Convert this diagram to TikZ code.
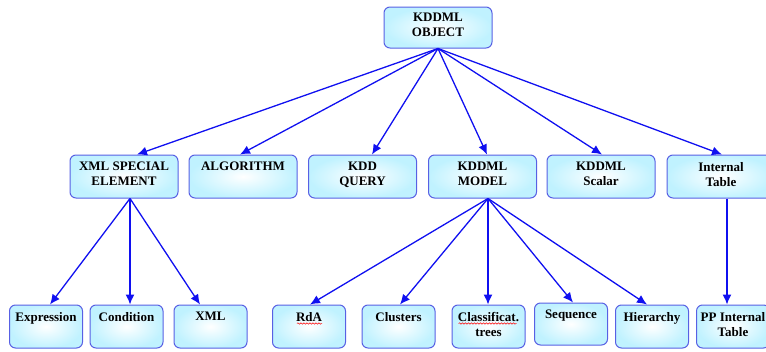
\documentclass[tikz,border=0pt]{standalone}
\usepackage{fontspec}
\setmainfont{Liberation Serif}
\usetikzlibrary{arrows.meta, positioning, decorations.pathmorphing}
\definecolor{boxline}{RGB}{88,96,228}
\definecolor{boxfill}{RGB}{192,242,255}
\definecolor{arrowblue}{RGB}{16,16,240}

\begin{document}
\begin{tikzpicture}[auto]
    \tikzstyle{object} = [rectangle, rounded corners=6pt, draw=boxline, line width=1pt, inner color=white, outer color=boxfill, minimum width=108pt, minimum height=43pt, align=center, font=\bfseries\fontsize{13}{15}\selectfont, execute at end node={\rule[-5pt]{0pt}{5pt}}]
    \tikzstyle{leaf} = [object, minimum width=73pt]
    \tikzstyle{line} = [draw=arrowblue, line width=1.3pt, -{Latex[length=10pt, width=9pt]}]
    \tikzstyle{typo} = [draw=red, line width=0.5pt, decorate, decoration={snake, amplitude=0.7pt, segment length=3pt}]

    \path [use as bounding box, clip] (0,0) rectangle (766pt,-351pt);

    \node [object, minimum height=41pt] (obj) at (438pt,-27.5pt) {KDDML\\OBJECT};
    \node [object, below of=obj, node distance=149pt, xshift=-314pt] (special) {XML SPECIAL\\ELEMENT};
    \node [object, below of=obj, node distance=149pt, xshift=-195pt] (algo) {ALGORITHM\\\phantom{X}};
    \node [object, below of=obj, node distance=149pt, xshift=-75.5pt] (query) {KDD\\QUERY};
    \node [object, below of=obj, node distance=149pt, xshift=44.5pt] (model) {KDDML\\MODEL};
    \node [object, below of=obj, node distance=149pt, xshift=163pt] (scalar) {KDDML\\Scalar};
    \node [object, below of=obj, node distance=149pt, xshift=283pt] (itable) {Internal\\Table};

    \node [leaf, below of=special, node distance=150pt, xshift=-78pt] (expr) {Expression\\\phantom{X}};
    \node [leaf, below of=special, node distance=150pt, xshift=2.5pt] (cond) {Condition\\\phantom{X}};
    \node [leaf, below of=special, node distance=150pt, xshift=86.5pt] (xml) {XML\\\phantom{X}};
    \node [leaf, below of=model, node distance=150pt, xshift=-173.5pt] (rda) {RdA\\\phantom{X}};
    \node [leaf, below of=model, node distance=150pt, xshift=-84pt] (clusters) {Clusters\\\phantom{X}};
    \node [leaf, below of=model, node distance=150pt, xshift=6pt] (trees) {Classificat.\\trees};
    \node [leaf, below of=model, node distance=147.5pt, xshift=88.5pt, minimum height=42pt] (sequence) {Sequence\\\phantom{X}};
    \node [leaf, below of=model, node distance=150pt, xshift=169.5pt] (hierarchy) {Hierarchy\\\phantom{X}};
    \node [leaf, below of=itable, node distance=150pt, xshift=12pt] (pptable) {PP Internal\\Table};

    % object -> first level
    \path [line] (obj.south) -- ([xshift=13pt]special.north);
    \path [line] (obj.south) -- ([xshift=-3pt]algo.north);
    \path [line] (obj.south) -- ([xshift=9.5pt]query.north);
    \path [line] (obj.south) -- ([xshift=4.5pt]model.north);
    \path [line] (obj.south) -- ([xshift=1pt]scalar.north);
    \path [line] (obj.south) -- ([xshift=1pt]itable.north);

    % xml special element
    \path [line] ([xshift=6pt]special.south) -- ([xshift=4pt]expr.north);
    \path [line] ([xshift=6pt]special.south) -- ([xshift=3.5pt]cond.north);
    \path [line] ([xshift=6pt]special.south) -- ([xshift=-10.5pt]xml.north);

    % kddml model
    \path [line] ([xshift=5.5pt]model.south) -- ([xshift=1pt]rda.north);
    \path [line] ([xshift=5.5pt]model.south) -- ([xshift=1.5pt]clusters.north);
    \path [line] ([xshift=5.5pt]model.south) -- ([xshift=-0.5pt]trees.north);
    \path [line] ([xshift=5.5pt]model.south) -- ([xshift=2pt]sequence.north);
    \path [line] ([xshift=5.5pt]model.south) -- ([xshift=-5pt]hierarchy.north);

    \path [line] ([xshift=6pt]itable.south) -- ([xshift=-6pt]pptable.north);

    % spelling marks
    \path [typo] ([xshift=-12pt, yshift=3pt]rda.center) -- ([xshift=13pt, yshift=3pt]rda.center);
    \path [typo] ([xshift=-30pt, yshift=3pt]trees.center) -- ([xshift=28pt, yshift=3pt]trees.center);
\end{tikzpicture}
\end{document}
